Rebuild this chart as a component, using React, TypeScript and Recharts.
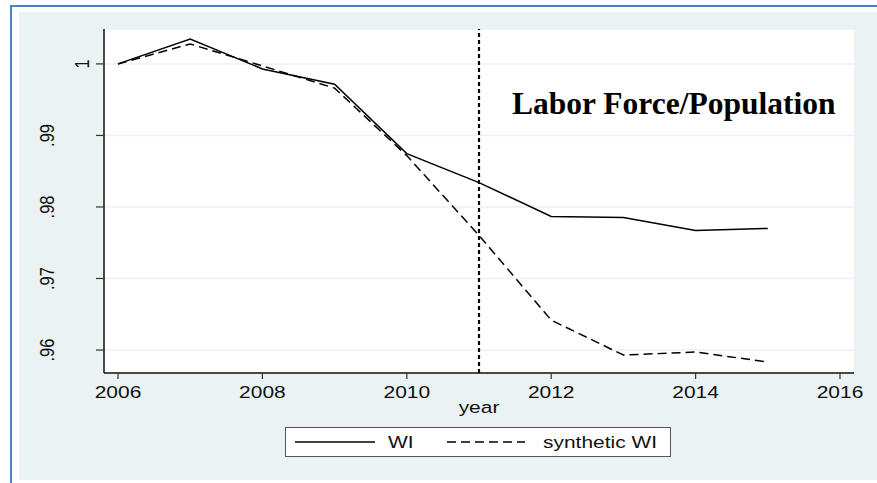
import React from "react";
import {
  LineChart,
  Line,
  XAxis,
  YAxis,
  CartesianGrid,
  ReferenceLine,
  Legend,
  Customized,
} from "recharts";

// Labor force / population index, Wisconsin vs. its synthetic control
const years = [2006, 2007, 2008, 2009, 2010, 2011, 2012, 2013, 2014, 2015];
const wiValues = [1.0, 1.00348, 0.9993, 0.99717, 0.98746, 0.98341, 0.97868, 0.97854, 0.97672, 0.977];
const syntheticValues = [1.0, 1.00279, 0.99972, 0.99661, 0.98718, 0.97603, 0.96418, 0.9593, 0.95972, 0.95833];

const xTicks = [2006, 2008, 2010, 2012, 2014, 2016];
const yTicks = [0.96, 0.97, 0.98, 0.99, 1];
const yTickLabels = [".96", ".97", ".98", ".99", "1"];
const treatmentYear = 2011;

const seriesNames = { wi: "WI", synthetic: "synthetic WI" };
const title = "Labor Force/Population";

const data = years.map((year, i) => ({
  year,
  wi: wiValues[i],
  synthetic: syntheticValues[i],
}));

const W = 877;
const H = 483;
const SANS = "'Liberation Sans', Arial, Helvetica, sans-serif";
const SERIF = "'Liberation Serif', 'Times New Roman', serif";
const STRETCH = 1.27;
const BG = "#eaf2f3";
const LEGEND_H = 30;

const XTick = (props: any) => {
  const { x, y, payload } = props;
  return (
    <text
      transform={`translate(${x},${y + 17}) scale(${STRETCH},1)`}
      textAnchor="middle"
      fontFamily={SANS}
      fontSize={16.5}
      fill="#111"
    >
      {payload.value}
    </text>
  );
};

const YTick = (props: any) => {
  const { x, y, payload } = props;
  const idx = yTicks.indexOf(payload.value);
  const label = idx >= 0 ? yTickLabels[idx] : String(payload.value);
  const baseX = x - 5 - (label.length - 1) * 17.5;
  return (
    <text
      transform={`translate(${baseX},${y}) scale(${STRETCH},1) rotate(-90)`}
      textAnchor="middle"
      fontFamily={SANS}
      fontSize={16.5}
      fill="#111"
    >
      {label}
    </text>
  );
};

const XAxisTitle = (props: any) => {
  const { viewBox } = props;
  const cx = viewBox.x + viewBox.width / 2;
  return (
    <text
      transform={`translate(${cx},413) scale(${STRETCH},1)`}
      textAnchor="middle"
      fontFamily={SANS}
      fontSize={16.5}
      fill="#111"
    >
      year
    </text>
  );
};

const LegendBox = () => (
  <svg width={386} height={LEGEND_H} style={{ display: "block" }}>
    <rect x={0.5} y={0.5} width={385} height={29} fill="#fff" stroke="#555" strokeWidth={1} />
    <line x1={10} x2={90} y1={15} y2={15} stroke="#000" strokeWidth={1.5} />
    <text
      transform={`translate(103,20.5) scale(${STRETCH},1)`}
      fontFamily={SANS}
      fontSize={16.5}
      fill="#111"
    >
      {seriesNames.wi}
    </text>
    <line x1={162} x2={240} y1={15} y2={15} stroke="#000" strokeWidth={1.5} strokeDasharray="9 5" />
    <text
      transform={`translate(258,20.5) scale(${STRETCH},1)`}
      fontFamily={SANS}
      fontSize={16.5}
      fill="#111"
    >
      {seriesNames.synthetic}
    </text>
  </svg>
);

const Title = () => (
  <text x={512} y={114} fontFamily={SERIF} fontSize={31.5} fontWeight="bold" fill="#000">
    {title}
  </text>
);

export default function App() {
  return (
    <div style={{ position: "absolute", left: 0, top: 0, width: W, height: H, background: "#fff", overflow: "hidden" }}>
      <div
        style={{
          position: "absolute",
          left: 10,
          top: 5,
          width: W,
          height: H,
          borderLeft: "2px solid #4f81bd",
          borderTop: "2px solid #4f81bd",
        }}
      />
      <div style={{ position: "absolute", left: 19, top: 12, width: W - 19, height: 468, background: BG }} />
      <div style={{ position: "absolute", left: 0, top: 0 }}>
        <LineChart width={W} height={H} data={data} margin={{ top: 29, right: 23, left: 0, bottom: 0 }}>
          <CartesianGrid
            vertical={false}
            horizontal={true}
            stroke={BG}
            strokeWidth={1.5}
            fill="#ffffff"
            fillOpacity={1}
          />
          <XAxis
            dataKey="year"
            type="number"
            domain={[2005.806, 2016.194]}
            ticks={xTicks}
            height={109 - LEGEND_H + 1}
            tick={<XTick />}
            tickSize={6}
            tickLine={{ stroke: "#333", strokeWidth: 1.2 }}
            axisLine={{ stroke: "#111", strokeWidth: 1.5 }}
            allowDataOverflow
            label={<XAxisTitle />}
          />
          <YAxis
            type="number"
            domain={[0.95679, 1.00488]}
            ticks={yTicks}
            width={104}
            tick={<YTick />}
            tickSize={8}
            tickLine={{ stroke: "#333", strokeWidth: 1.2 }}
            axisLine={{ stroke: "#111", strokeWidth: 1.5 }}
            allowDataOverflow
          />
          <ReferenceLine x={treatmentYear} stroke="#000" strokeWidth={2.2} strokeDasharray="4 3" />
          <Line
            type="linear"
            dataKey="wi"
            name={seriesNames.wi}
            stroke="#000"
            strokeWidth={1.5}
            dot={false}
            isAnimationActive={false}
          />
          <Line
            type="linear"
            dataKey="synthetic"
            name={seriesNames.synthetic}
            stroke="#000"
            strokeWidth={1.5}
            strokeDasharray="9 5"
            dot={false}
            isAnimationActive={false}
          />
          <Customized component={Title} />
          <Legend
            content={<LegendBox />}
            wrapperStyle={{ position: "absolute", left: 285, top: 427, width: 386, height: LEGEND_H, bottom: "auto" }}
          />
        </LineChart>
      </div>
    </div>
  );
}
